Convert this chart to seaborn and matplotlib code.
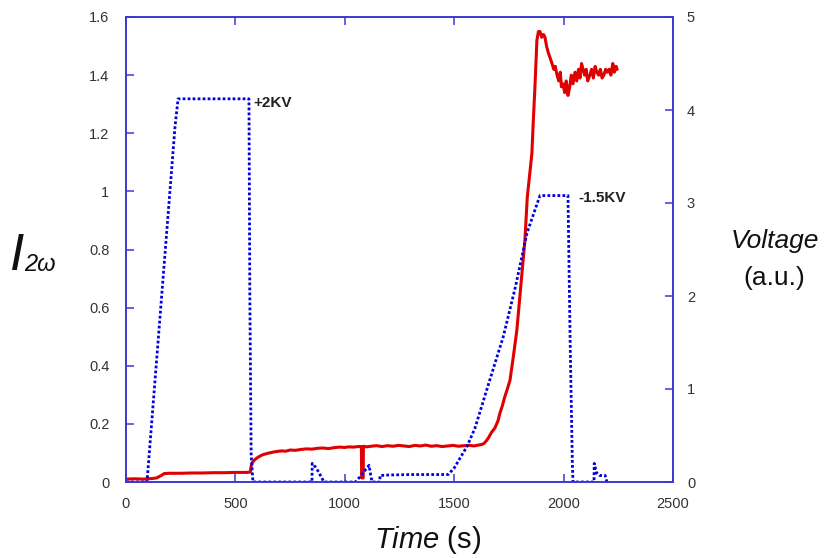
import matplotlib
matplotlib.use("Agg")
import matplotlib.pyplot as plt
import seaborn as sns
import pandas as pd
import numpy as np

# ---------------- data ----------------
red_time = [0, 40, 80, 120, 140, 160, 175, 200, 250, 300, 350, 400, 450, 500, 550, 568,
            572, 578, 590, 605, 625, 650, 680, 710, 730, 750, 775, 800, 825, 850, 875, 900,
            925, 950, 975, 1000, 1020, 1040, 1060,
            1076, 1077, 1084, 1085, 1100, 1120, 1145, 1170, 1195, 1220, 1245, 1270, 1295,
            1320, 1345, 1370, 1395, 1420, 1445, 1470, 1495, 1520, 1545,
            1570, 1590, 1610, 1625, 1635, 1645, 1655, 1670, 1686, 1700, 1709, 1720, 1730,
            1742, 1755, 1770, 1786, 1798, 1808,
            1823, 1834, 1845, 1855, 1862, 1869, 1878, 1885, 1892, 1900, 1908, 1915, 1922,
            1929, 1938, 1947, 1955, 1962, 1970, 1978, 1985, 1990, 1997, 2005, 2012, 2020,
            2028, 2035, 2043, 2052, 2060, 2068, 2075, 2082, 2089, 2096, 2103, 2110, 2120,
            2128, 2136, 2144, 2152, 2160, 2168, 2176, 2184, 2192, 2200, 2208, 2216, 2225,
            2232, 2240, 2245]
red_i2w = [0.010, 0.011, 0.010, 0.012, 0.014, 0.022, 0.029, 0.030, 0.030, 0.031, 0.031,
           0.032, 0.032, 0.033, 0.033, 0.034,
           0.055, 0.068, 0.078, 0.086, 0.094, 0.099, 0.104, 0.107, 0.106, 0.110, 0.109,
           0.112, 0.114, 0.113, 0.116, 0.117, 0.115, 0.118, 0.120, 0.119, 0.121, 0.120,
           0.122,
           0.122, 0.014, 0.014, 0.123, 0.121, 0.123, 0.125, 0.122, 0.125, 0.123, 0.126,
           0.124, 0.122, 0.126, 0.124, 0.127, 0.123, 0.125, 0.122, 0.124, 0.126, 0.123,
           0.125,
           0.126, 0.124, 0.127, 0.129, 0.132, 0.140, 0.150, 0.170, 0.186, 0.210, 0.237,
           0.262, 0.29, 0.318, 0.35, 0.43, 0.52, 0.62, 0.70,
           0.83, 0.98, 1.06, 1.13, 1.25, 1.36, 1.52, 1.55, 1.55, 1.53, 1.54, 1.53, 1.50,
           1.48, 1.46, 1.44, 1.42, 1.43, 1.40, 1.38, 1.41, 1.36, 1.37, 1.34, 1.38, 1.33,
           1.36, 1.40, 1.37, 1.41, 1.38, 1.42, 1.39, 1.44, 1.42, 1.40, 1.42, 1.38, 1.40,
           1.42, 1.39, 1.43, 1.41, 1.40, 1.42, 1.39, 1.40, 1.42, 1.41, 1.42, 1.40, 1.44,
           1.41, 1.43, 1.42]

blue_time = [0, 96, 224, 238, 562, 566, 572, 580, 850, 851, 870, 905, 1050,
             1110, 1111, 1120, 1125, 1160, 1161, 1200, 1300, 1400, 1472, 1500, 1530, 1558,
             1595, 1663, 1724, 1780, 1833, 1892, 2020, 2030, 2040, 2043, 2139, 2140,
             2150, 2165, 2190, 2198]
blue_volt = [0, 0, 3.82, 4.12, 4.12, 2.0, 0.3, 0, 0, 0.20, 0.15, 0, 0,
             np.nan, 0.18, 0.05, 0, 0, 0.07, 0.075, 0.08, 0.08, 0.08, 0.15, 0.27, 0.38,
             0.58, 1.10, 1.56, 2.10, 2.68, 3.08, 3.08, 1.5, 0.2, 0, 0, 0.20,
             0.10, 0.07, 0.07, 0]

x_ticks = [0, 500, 1000, 1500, 2000, 2500]
left_ticks = [0, 0.2, 0.4, 0.6, 0.8, 1, 1.2, 1.4, 1.6]
left_labels = ["0", "0.2", "0.4", "0.6", "0.8", "1", "1.2", "1.4", "1.6"]
right_ticks = [0, 1, 2, 3, 4, 5]
right_labels = ["0", "1", "2", "3", "4", "5"]

# ---------------- style ----------------
sns.set_theme(style="white")
plt.rcParams["font.family"] = ["Liberation Sans", "DejaVu Sans"]
plt.rcParams["mathtext.fontset"] = "custom"
plt.rcParams["mathtext.it"] = "Liberation Sans:italic"
plt.rcParams["mathtext.rm"] = "Liberation Sans"

spine_col = "#3a3ad0"
tick_col = "#333333"

fig = plt.figure(figsize=(8.28, 5.58), dpi=100)
ax = fig.add_axes([126 / 828, 1 - 482 / 558, (673 - 126) / 828, (482 - 17) / 558])
ax2 = ax.twinx()

red_df = pd.DataFrame({"t": red_time, "I": red_i2w})
blue_df = pd.DataFrame({"t": blue_time, "V": blue_volt})

sns.lineplot(data=red_df, x="t", y="I", ax=ax, color="#e00000", linewidth=2.2,
             sort=False, estimator=None)
sns.lineplot(data=blue_df, x="t", y="V", ax=ax2, color="#0000e0", linewidth=2.0,
             linestyle=(0, (1, 0.8)), sort=False, estimator=None)

ax.set_xlim(0, 2500)
ax.set_ylim(0, 1.6)
ax2.set_ylim(0, 5)
ax.set_xticks(x_ticks)
ax.set_xticklabels([str(v) for v in x_ticks])
ax.set_yticks(left_ticks)
ax.set_yticklabels(left_labels)
ax2.set_yticks(right_ticks)
ax2.set_yticklabels(right_labels)

for a in (ax, ax2):
    for s in a.spines.values():
        s.set_color(spine_col)
        s.set_linewidth(1.2)
    a.set_xlabel("")
    a.set_ylabel("")

ax.tick_params(axis="both", direction="in", length=6, width=1.1, color=spine_col,
               labelcolor=tick_col, labelsize=10.5, top=True, bottom=True)
ax.tick_params(axis="y", pad=12, left=True)
ax.tick_params(axis="x", pad=11)
ax2.tick_params(axis="y", direction="in", length=6, width=1.1, color=spine_col,
                labelcolor=tick_col, labelsize=10.5, pad=10, right=True)

ax2.text(580, 4.08, "+2KV", fontsize=11, fontweight="bold", color="#222222",
         ha="left", va="center")
ax2.text(2066, 3.05, "-1.5KV", fontsize=11, fontweight="bold", color="#222222",
         ha="left", va="center")

# left label: big italic I with smaller subscript
fig.text(10 / 828, 1 - 270 / 558, "I", fontsize=37, style="italic",
         ha="left", va="baseline", color="#111111")
fig.text(24 / 828, 1 - 271 / 558, "2ω", fontsize=17, style="italic",
         ha="left", va="baseline", color="#111111")
fig.text(775 / 828, 1 - 241 / 558, "Voltage", fontsize=19, style="italic",
         ha="center", va="center", color="#111111")
fig.text(774 / 828, 1 - 278 / 558, "(a.u.)", fontsize=19, ha="center",
         va="center", color="#111111")
fig.text(428 / 828, 1 - 540 / 558, r"$\mathit{Time}$ (s)", fontsize=21,
         ha="center", va="center", color="#111111")

fig.savefig("out.png", dpi=100)
